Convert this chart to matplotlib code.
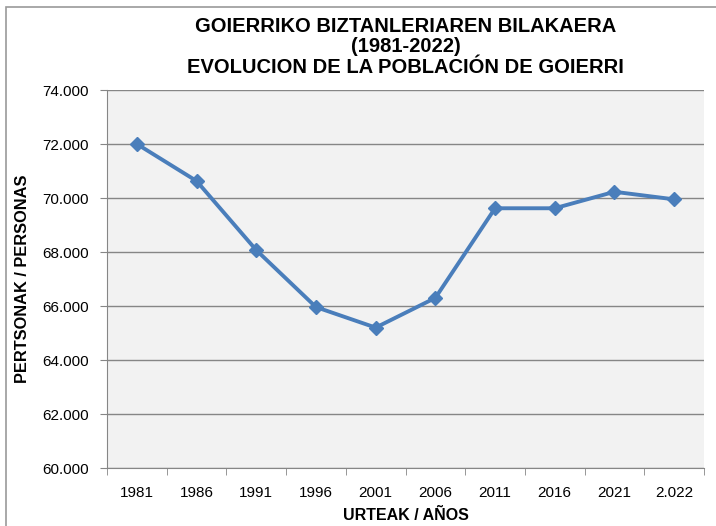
import matplotlib
matplotlib.use("Agg")
import matplotlib.pyplot as plt
from matplotlib.patches import Rectangle
from matplotlib.ticker import FuncFormatter, FixedLocator

plt.rcParams['font.family'] = ['Liberation Sans', 'DejaVu Sans']

years = ["1981", "1986", "1991", "1996", "2001", "2006", "2011", "2016", "2021", "2.022"]
population = [72000, 70630, 68070, 65960, 65200, 66300, 69620, 69620, 70230, 69950]
yticks = [60000, 62000, 64000, 66000, 68000, 70000, 72000, 74000]

fig = plt.figure(figsize=(7.16, 5.26), dpi=100)
fig.patches.append(Rectangle((6/716, -0.1), 1.2, 1 - 7/526 + 0.1, transform=fig.transFigure,
                             fill=False, edgecolor='#9a9a9a', linewidth=1.2))
ax = fig.add_axes([107/716, 1 - 468/526, (704 - 107)/716, (468 - 90)/526])
ax.set_facecolor('#F2F2F2')

x = list(range(len(years)))
ax.plot(x, population, color='#4A7EBB', linewidth=2.8, marker='D', markersize=7,
        markerfacecolor='#4A7EBB', markeredgecolor='#4A7EBB', zorder=3)

ax.set_xlim(-0.5, len(years) - 0.5)
ax.set_ylim(60000, 74000)
ax.set_yticks(yticks)
ax.yaxis.set_major_formatter(FuncFormatter(lambda v, p: f"{int(v):,}".replace(",", ".")))
ax.grid(axis='y', color='#868686', linewidth=1.0)
ax.set_axisbelow(True)

ax.set_xticks(x)
ax.set_xticklabels(years)
ax.xaxis.set_minor_locator(FixedLocator([i - 0.5 for i in range(len(years) + 1)]))
ax.tick_params(axis='x', which='major', length=0, pad=13, labelsize=11)
ax.tick_params(axis='x', which='minor', length=5, color='#868686', direction='out')
ax.tick_params(axis='y', length=5, color='#868686', labelsize=11, pad=8)

for s in ['top', 'right']:
    ax.spines[s].set_visible(False)
for s in ['left', 'bottom']:
    ax.spines[s].set_color('#868686')

fig.text((107 + 704) / 2 / 716, 1 - 47/526,
         "GOIERRIKO BIZTANLERIAREN BILAKAERA\n(1981-2022)\nEVOLUCION DE LA POBLACIÓN DE GOIERRI",
         ha='center', va='center', fontsize=14.5, fontweight='bold', linespacing=1.12)
ax.set_xlabel("URTEAK / AÑOS", fontsize=11.5, fontweight='bold', labelpad=6)
ax.set_ylabel("PERTSONAK / PERSONAS", fontsize=11.8, fontweight='bold', labelpad=9)

fig.savefig("out.png", dpi=100)
